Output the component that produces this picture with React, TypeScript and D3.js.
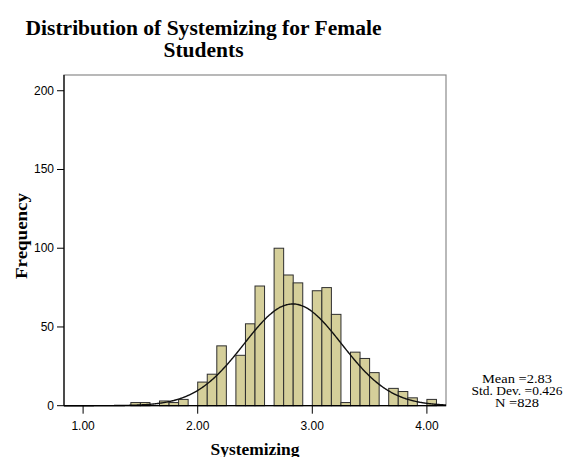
import React from "react";
import * as d3 from "d3";

const titleLines = ["Distribution of Systemizing for Female", "Students"];
const titleWidths = [356, 80];
const xLabel = "Systemizing";
const yLabel = "Frequency";

const binWidth = 1 / 12;
const binStarts = [
  1.4167, 1.5, 1.5833, 1.6667, 1.75, 1.8333, 1.9167,
  2.0, 2.0833, 2.1667, 2.25, 2.3333, 2.4167, 2.5, 2.5833,
  2.6667, 2.75, 2.8333, 2.9167, 3.0, 3.0833, 3.1667, 3.25,
  3.3333, 3.4167, 3.5, 3.5833, 3.6667, 3.75, 3.8333, 3.9167, 4.0,
];
const counts = [
  2, 2, 0, 3, 2, 4, 0,
  15, 20, 38, 0, 32, 52, 76, 0,
  100, 83, 78, 0, 73, 75, 58, 2,
  34, 30, 21, 0, 11, 9, 5, 0, 4,
];

const xTicks = [1, 2, 3, 4];
const yTicks = [0, 50, 100, 150, 200];

const meanValue = 2.83;
const sdValue = 0.426;
const nValue = 828;
const statsLines = ["Mean =2.83", "Std. Dev. =0.426", "N =828"];
const statsWidths = [70, 91, 44];

const W = 579;
const H = 457;
const left = 64;
const right = 446;
const top = 75;
const bottom = 405.7;

export default function App() {
  const x = d3.scaleLinear().domain([10 / 12, 50 / 12]).range([left, right]);
  const y = d3.scaleLinear().domain([0, 210]).range([bottom, top]);

  const bars = binStarts.map((s, i) => ({ s, c: counts[i] })).filter((d) => d.c > 0);

  const curvePts = d3.range(0, 401).map((i) => {
    const v = 10 / 12 + (i / 400) * (40 / 12);
    const z = (v - meanValue) / sdValue;
    const dens = (nValue * binWidth) / (sdValue * Math.sqrt(2 * Math.PI)) * Math.exp(-0.5 * z * z);
    return [v, dens] as [number, number];
  });
  const line = d3
    .line<[number, number]>()
    .x((d) => x(d[0]))
    .y((d) => y(d[1]))
    .curve(d3.curveBasis);

  const serif = "'Liberation Serif', 'Times New Roman', serif";
  const sans = "'Liberation Sans', Arial, sans-serif";

  return (
    <svg
      width={W}
      height={H}
      style={{ position: "absolute", left: 0, top: 0, background: "#fff" }}
    >
      <rect x={0} y={0} width={W} height={H} fill="#fff" />
      {titleLines.map((t, i) => (
        <text
          key={i}
          x={203.5}
          y={35 + i * 22}
          textAnchor="middle"
          fontFamily={serif}
          fontWeight="bold"
          fontSize={20.5}
          textLength={titleWidths[i]}
          lengthAdjust="spacingAndGlyphs"
          fill="#000"
        >
          {t}
        </text>
      ))}
      {/* frame */}
      <rect x={left} y={top} width={right - left} height={bottom - top} fill="none" stroke="#8a8a8a" strokeWidth={1.2} />
      {/* bars */}
      {bars.map((d, i) => (
        <rect
          key={i}
          x={x(d.s)}
          y={y(d.c)}
          width={x(d.s + binWidth) - x(d.s)}
          height={y(0) - y(d.c)}
          fill="#d5cf9a"
          stroke="#2e2e2e"
          strokeWidth={1}
        />
      ))}
      {/* curve */}
      <path d={line(curvePts) || ""} fill="none" stroke="#111" strokeWidth={1.4} />
      {/* axes */}
      <line x1={left} x2={left} y1={top} y2={bottom} stroke="#000" strokeWidth={1.2} />
      <line x1={left} x2={right} y1={bottom} y2={bottom} stroke="#000" strokeWidth={1.2} />
      {yTicks.map((t) => (
        <g key={t}>
          <line x1={left - 7} x2={left} y1={y(t)} y2={y(t)} stroke="#000" strokeWidth={1} />
          <text x={left - 10} y={y(t) + 4} textAnchor="end" fontFamily={sans} fontSize={12} fill="#000">
            {t}
          </text>
        </g>
      ))}
      {xTicks.map((t) => (
        <g key={t}>
          <line x1={x(t)} x2={x(t)} y1={bottom} y2={bottom + 8} stroke="#000" strokeWidth={1} />
          <text x={x(t)} y={430} textAnchor="middle" fontFamily={sans} fontSize={12} fill="#000">
            {d3.format(".2f")(t)}
          </text>
        </g>
      ))}
      <text
        x={(left + right) / 2}
        y={455}
        textAnchor="middle"
        fontFamily={serif}
        fontWeight="bold"
        fontSize={16}
        textLength={89}
        lengthAdjust="spacingAndGlyphs"
        fill="#000"
      >
        {xLabel}
      </text>
      <text
        transform={`translate(27, 236) rotate(-90)`}
        textAnchor="middle"
        fontFamily={serif}
        fontWeight="bold"
        fontSize={16}
        textLength={86}
        lengthAdjust="spacingAndGlyphs"
        fill="#000"
      >
        {yLabel}
      </text>
      {statsLines.map((s, i) => (
        <text
          key={i}
          x={517}
          y={383 + i * 12}
          textAnchor="middle"
          fontFamily={serif}
          fontSize={11.5}
          textLength={statsWidths[i]}
          lengthAdjust="spacingAndGlyphs"
          fill="#000"
        >
          {s}
        </text>
      ))}
    </svg>
  );
}
